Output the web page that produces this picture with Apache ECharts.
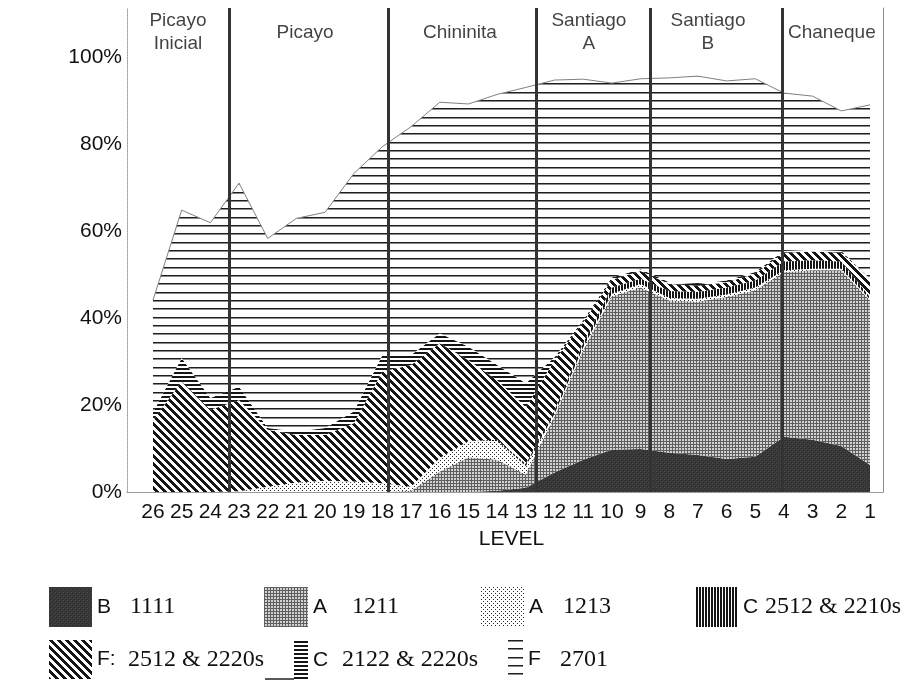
<!DOCTYPE html>
<html><head><meta charset="utf-8">
<script src="https://cdn.jsdelivr.net/npm/echarts@6/dist/echarts.min.js"></script>
<style>html,body{margin:0;padding:0;background:#fff}#c{width:923px;height:700px}</style>
</head><body><div id="c"></div>
<script>
// ---------- data ----------
const levels = ['26','25','24','23','22','21','20','19','18','17','16','15','14','13','12','11','10','9','8','7','6','5','4','3','2','1'];
const legendLetters = ['B','A','A','C','F:','C','F'];
const legendCodes = ['1111','1211','1213','2512 & 2210s','2512 & 2220s','2122 & 2220s','2701'];
const b1111  = [0,0,0,0,0,0,0,0,0,0,0,0,0.3,1,4.5,7.4,9.7,9.9,9,8.5,7.6,8.1,12.7,12,10.6,6.2];
const a1211  = [0,0,0,0,0,0,0,0,0,0.3,4.7,8,7.1,3,13,25.2,35.3,37.1,35,35.3,37.2,38.3,37.9,39,40.4,37.8];
const a1213  = [0,0,0,0.2,1.2,2.2,2.6,2.4,2.0,0.9,3.1,3.7,4.3,2,0.5,0.7,0.6,0.8,0.6,0.6,0.6,0.6,0.4,0.3,0.3,0.3];
const c2512  = [0,0,0,0,0,0,0,0,0,0,0,0,0.3,0.5,0.8,1.0,1.4,1.2,1.6,1.6,1.6,1.6,2,2,1.7,0.5];
const f2512  = [16.5,25.4,18.9,20.9,13.1,10.9,10.5,13.4,25.7,28.0,26.4,18.6,13.7,13,11.5,4.7,1.8,1.8,1.6,1.4,1.2,1.6,2,2,2,3.8];
const c2122  = [1.8,5.4,2.7,3.1,0.4,0.8,1.6,2.7,3.8,2.3,2.3,3.1,3.5,5.5,0.7,0.5,0.5,0.4,0.4,0.4,0.4,0.4,0.4,0.4,0.4,0.4];
const f2701  = [25.8,34.0,40.3,46.8,43.6,49.0,49.6,54.7,47.9,52.5,53.1,55.8,62.2,68,63.7,55.4,44.7,43.8,47,47.8,45.9,44.4,36.3,35.3,32.2,40];
const seriesValues = [b1111, a1211, a1213, c2512, f2512, c2122, f2701];
const yTicks = [0,20,40,60,80,100];
const sectionNames = ['Picayo\nInicial','Picayo','Chininita','Santiago\nA','Santiago\nB','Chaneque'];
const sectionCenters = [25.13, 20.7, 15.3, 10.8, 6.65, 2.33];   // in LEVEL units
const sectionBoundaries = [23.35, 17.81, 12.65, 8.65, 4.07];   // in LEVEL units
const sectionLabelY = 105.6;

// ---------- layout ----------
const W = 923;
const frameL = 127, frameR = 883, plotTop = 8, plotBottom = 492, y100 = 57;
const dataL = 153, dataR = 870;
const pxPerLevel = (dataR - dataL) / (levels.length - 1);
const xMaxLevel = 26 + (dataL - frameL) / pxPerLevel;
const xMinLevel = 1 - (frameR - dataR) / pxPerLevel;
const yMax = 100 * (plotBottom - plotTop) / (plotBottom - y100);
const SANS = 'Liberation Sans, Arial, sans-serif';
const SERIF = 'Liberation Serif, Times New Roman, serif';

// ---------- patterns ----------
function pat(w, h, draw) {
  const c = document.createElement('canvas'); c.width = w; c.height = h;
  const g = c.getContext('2d'); draw(g); return { image: c, repeat: 'repeat' };
}
const patterns = [
  pat(4,4,g=>{g.fillStyle='#383838';g.fillRect(0,0,4,4);g.fillStyle='#2a2a2a';g.fillRect(1,0,1,1);g.fillRect(3,2,1,1);g.fillStyle='#474747';g.fillRect(0,3,1,1);g.fillRect(2,1,1,1);}),
  pat(3,3,g=>{g.fillStyle='#d2d2d2';g.fillRect(0,0,3,3);g.fillStyle='#5e5e5e';g.fillRect(0,0,3,1);g.fillRect(0,0,1,3);}),
  pat(4,4,g=>{g.fillStyle='#ffffff';g.fillRect(0,0,4,4);g.fillStyle='#2a2a2a';g.fillRect(0,0,1,1);g.fillRect(2,2,1,1);}),
  pat(3,1,g=>{g.fillStyle='#ffffff';g.fillRect(0,0,3,1);g.fillStyle='#151515';g.fillRect(0,0,2,1);}),
  pat(8,8,g=>{g.fillStyle='#ffffff';g.fillRect(0,0,8,8);g.fillStyle='#151515';for(let y=0;y<8;y++)for(let x=0;x<8;x++){if(((x-y+16)%8)<4)g.fillRect(x,y,1,1);}}),
  pat(1,4,g=>{g.fillStyle='#ffffff';g.fillRect(0,0,1,4);g.fillStyle='#151515';g.fillRect(0,0,1,2);}),
  pat(1,25,g=>{g.fillStyle='#ffffff';g.fillRect(0,0,1,25);[0,8,17].forEach(r=>{g.fillStyle='#1e1e1e';g.fillRect(0,r,1,1);g.fillStyle='#8a8a8a';g.fillRect(0,r+1,1,1);});})
];

const names = legendLetters.map((l,i)=> l.replace(':','') + ' ' + legendCodes[i]);

const dataSeries = seriesValues.map((vals, i) => ({
  name: names[i], type: 'line', stack: 'all', xAxisIndex: 1, yAxisIndex: 2,
  data: vals, symbol: 'none', showSymbol: false, smooth: false, silent: true,
  lineStyle: i === 6 ? { width: 1, color: '#808080' } : { width: 0, color: 'transparent' },
  itemStyle: { color: patterns[i] },
  areaStyle: { color: patterns[i], opacity: 1 },
  emphasis: { disabled: true }, z: 2
}));

// legend layout: [left, top, iconW, iconH, letterBoxWidth]
const legendLayout = [
  [49,587,43,40,33],[264,587,44,40,39],[481,587,43,40,34],[696,587,42,40,22],
  [49,640,43,39,31],[294,641,14,38,29],[508,640,15,39,32]
];
const legends = names.map((n,i)=>({
  left: legendLayout[i][0], top: legendLayout[i][1], padding: 0,
  itemWidth: legendLayout[i][2], itemHeight: legendLayout[i][3], icon: 'rect',
  selectedMode: false,
  data: [{ name: n, itemStyle: { color: patterns[i], borderWidth: 0, borderColor: 'transparent' } }],
  formatter: () => '{l|' + legendLetters[i] + '}{n|' + legendCodes[i] + '}',
  textStyle: { rich: {
    l: { fontFamily: SANS, fontSize: 21, color: '#111', width: legendLayout[i][4] },
    n: { fontFamily: SERIF, fontSize: 24, color: '#111' }
  } }
}));

const chart = echarts.init(document.getElementById('c'), null, { renderer: 'canvas' });
chart.setOption({
  animation: false,
  backgroundColor: '#ffffff',
  grid: [
    { left: frameL, right: W - frameR, top: plotTop, bottom: 700 - plotBottom, outerBoundsMode: 'none' },
    { left: dataL, right: W - dataR, top: plotTop, bottom: 700 - plotBottom, outerBoundsMode: 'none' }
  ],
  xAxis: [
    { gridIndex: 0, type: 'value', inverse: true, min: xMinLevel, max: xMaxLevel, position: 'top',
      axisLine: { show: true, lineStyle: { color: '#9a9a9a', width: 1 } },
      axisTick: { show: false }, axisLabel: { show: false }, splitLine: { show: false } },
    { gridIndex: 1, type: 'category', data: levels, boundaryGap: false,
      axisLine: { show: false }, axisTick: { show: false }, splitLine: { show: false },
      axisLabel: { interval: 0, margin: 10, fontSize: 21, color: '#111', fontFamily: SANS },
      name: 'LEVEL', nameLocation: 'middle', nameGap: 37,
      nameTextStyle: { fontSize: 21, color: '#111', fontFamily: SANS } }
  ],
  yAxis: [
    { gridIndex: 0, type: 'value', min: 0, max: yMax, interval: 20,
      axisLine: { show: true, lineStyle: { color: '#9a9a9a', width: 1, type: 'dotted' } },
      axisTick: { show: false }, splitLine: { show: false },
      axisLabel: { margin: 5, fontSize: 21, color: '#111', fontFamily: SANS,
        formatter: v => yTicks.indexOf(Math.round(v)) >= 0 && Math.abs(v - Math.round(v)) < 1e-6 ? v + '%' : '' } },
    { gridIndex: 0, type: 'value', min: 0, max: yMax, position: 'right',
      axisLine: { show: true, lineStyle: { color: '#8a8a8a', width: 1 } },
      axisTick: { show: false }, axisLabel: { show: false }, splitLine: { show: false } },
    { gridIndex: 1, type: 'value', min: 0, max: yMax, show: false }
  ],
  legend: legends,
  series: dataSeries.concat([{
    type: 'scatter', xAxisIndex: 0, yAxisIndex: 0, silent: true, z: 6,
    symbolSize: 0, data: sectionNames.map((n,i)=>[sectionCenters[i], sectionLabelY, n]),
    label: { show: true, position: 'inside', formatter: p => p.value[2], fontSize: 19, lineHeight: 23,
      color: '#111', fontFamily: SANS },
    markLine: { silent: true, symbol: ['none','none'], label: { show: false }, z: 6,
      lineStyle: { color: '#333', width: 3, type: 'solid' },
      emphasis: { disabled: true },
      data: sectionBoundaries.map(v => ({ xAxis: v })) }
  }]),
  graphic: [{ type: 'line', shape: { x1: 265, y1: 679, x2: 294, y2: 679 }, style: { stroke: '#222', lineWidth: 1.5 }, silent: true }]
});
</script></body></html>
